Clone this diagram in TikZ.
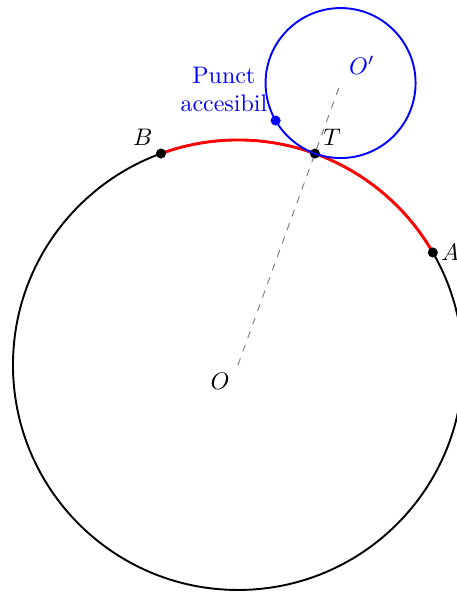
\documentclass[tikz,border=0pt]{standalone}
\usepackage{amsmath,amssymb}
\usepackage{tikz}
\usetikzlibrary{calc}

\begin{document}
\begin{tikzpicture}[
    scale=1.1,
    big/.style={black, thick},
    arcred/.style={red, very thick},
    small/.style={blue, thick},
    axis/.style={gray, dashed, thin},
    pt/.style={circle, fill=black, inner sep=0pt, minimum size=4.2pt},
    lbl/.style={font=\normalsize},
]
\useasboundingbox (-3.173,-3.027) rectangle (2.92,4.867);

% ── Centres and points ──
\coordinate (O) at (0,0);
\coordinate (Op) at (70:4);
\coordinate (T) at (70:3);
\coordinate (A) at (30:3);
\coordinate (B) at (110:3);
\coordinate (P) at ($(Op)+(210:1)$);

% ── Circles ──
\draw[big] (O) circle (3);
\draw[arcred] (A) arc (30:110:3);

% ── Line of centres ──
\draw[axis] (O) -- (Op);

% ── Marked points ──
\node[pt] (nT) at (T) {};
\node[pt] (nA) at (A) {};
\node[pt] (nB) at (B) {};
\draw[small] (Op) circle (1);
\node[pt, fill=blue] (nP) at (P) {};

% ── Labels ──
\node[lbl, below left] at (O) {$O$};
\node[lbl, above right, text=blue] at (Op) {$O'$};
\node[lbl, above right] at (nT) {$T$};
\node[lbl, right] at (nA) {$A$};
\node[lbl, above left] at (nB) {$B$};
\node[lbl, above left, text=blue, align=center] at (P) {Punct\\accesibil};

\end{tikzpicture}
\end{document}
